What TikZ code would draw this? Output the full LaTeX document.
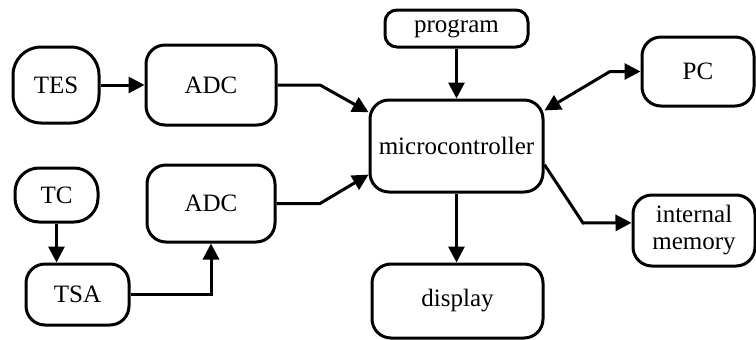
\documentclass[tikz,border=0pt]{standalone}
\usepackage{fontspec}
\setmainfont{Liberation Serif}
\usetikzlibrary{arrows.meta}
\begin{document}
\begin{tikzpicture}[x=1pt,y=-1pt,
  blk/.style={draw, line width=3pt, rounded corners=19pt, inner sep=0pt,
    align=center, font=\fontsize{25}{27}\selectfont},
  conn/.style={line width=3pt, -{Triangle[length=16pt,width=16pt]}},
  bconn/.style={line width=3pt, {Triangle[length=16pt,width=16pt]}-{Triangle[length=16pt,width=16pt]}}]
\useasboundingbox (0,0) rectangle (756,340);
\node[blk, rounded corners=28pt, minimum width=86pt, minimum height=76pt] (tes) at (56,85) {TES};
\node[blk, minimum width=130pt, minimum height=80pt] (adc1) at (211,85) {ADC};
\node[blk, minimum width=128pt, minimum height=77pt] (adc2) at (211,203.5) {ADC};
\node[blk, rounded corners=24pt, minimum width=83pt, minimum height=54pt] (tc) at (56.5,195) {TC};
\node[blk, minimum width=103pt, minimum height=61pt] (tsa) at (77.5,294.5) {TSA};
\node[blk, rounded corners=12pt, minimum width=143pt, minimum height=37pt] (prog) at (456.5,28.5) {program};
\node[blk, minimum width=173pt, minimum height=92pt] (micro) at (456.5,146) {microcontroller};
\node[blk, minimum width=112pt, minimum height=69pt] (pc) at (698,71.5) {PC};
\node[blk, minimum width=122pt, minimum height=71pt] (mem) at (694,230.5) {internal\\memory};
\node[blk, minimum width=171pt, minimum height=74pt] (disp) at (457.5,301) {display};

\draw[conn] (tes.east) -- (adc1.west);
\draw[conn] (adc1.east) -- (320,85) -- (micro.159);
\draw[conn] (adc2.east) -- (320,203.5) -- (micro.198);
\draw[conn] (tc.south) -- (tc.south |- tsa.north);
\draw[conn] (tsa.east) -| (adc2.south);
\draw[conn] (prog.south) -- (micro.north);
\draw[conn] (micro.south) -- (micro.south |- disp.north);
\draw[bconn] (pc.west) -- (610,71.5) -- (micro.22);
\draw[conn] (micro.-12) -- (583,223) -- (mem.173);
\end{tikzpicture}
\end{document}
